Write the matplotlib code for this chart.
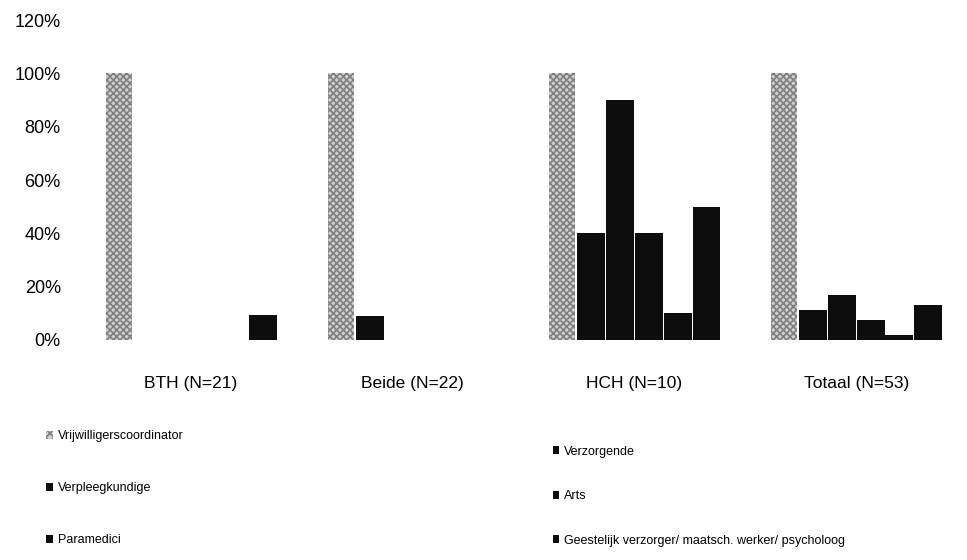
import matplotlib
matplotlib.use("Agg")
import matplotlib.pyplot as plt
import numpy as np
from matplotlib.patches import Patch

plt.rcParams['font.family'] = ['Liberation Sans', 'DejaVu Sans']
plt.rcParams['hatch.linewidth'] = 1.2

groups = ["BTH (N=21)", "Beide (N=22)", "HCH (N=10)", "Totaal (N=53)"]
series = ["Vrijwilligerscoordinator", "Verpleegkundige", "Paramedici",
          "Verzorgende", "Arts", "Geestelijk verzorger/ maatsch. werker/ psycholoog"]

vrijwilligers = [100, 100, 100, 100]
verpleegkundige = [0, 9.1, 40, 11.3]
paramedici = [0, 0, 90, 17]
verzorgende = [0, 0, 40, 7.5]
arts = [0, 0, 10, 1.9]
geestelijk = [9.5, 0, 50, 13.2]
values = [vrijwilligers, verpleegkundige, paramedici, verzorgende, arts, geestelijk]

fig = plt.figure(figsize=(9.67, 5.6), dpi=100)
ax = fig.add_axes([0.083, 0.393, 0.917, 0.571])

x = np.arange(len(groups))
w = 0.13
handles = []
for i, (name, vals) in enumerate(zip(series, values)):
    pos = x + (i - 2.5) * w
    if i == 0:
        ax.bar(pos, vals, w * 0.9, color='#d0d0d0', hatch='xxxxx',
               edgecolor='#808080', linewidth=0)
        handles.append(Patch(facecolor='#d0d0d0', hatch='xxxx', edgecolor='#808080',
                             linewidth=0, label=name))
    else:
        ax.bar(pos, vals, w * 0.97, color='#0d0d0d', linewidth=0)
        handles.append(Patch(facecolor='#0d0d0d', linewidth=0, label=name))

ax.set_xlim(-0.5, 3.5)
ax.set_ylim(0, 120)
ax.set_yticks(range(0, 121, 20))
ax.set_yticklabels([f"{v}%" for v in range(0, 121, 20)], fontsize=13)
ax.set_xticks(x)
ax.set_xticklabels(groups, fontsize=12.5)
ax.tick_params(axis='y', length=0, pad=14)
ax.tick_params(axis='x', length=0, pad=26)
for s in ax.spines.values():
    s.set_visible(False)

common = dict(frameon=False, fontsize=9, handlelength=0.5, handleheight=0.6,
              handletextpad=0.4, borderpad=0, borderaxespad=0, loc='upper left')
fig.legend(handles=handles[:3], bbox_to_anchor=(0.048, 0.232),
           labelspacing=3.2, **common)
fig.legend(handles=handles[3:], bbox_to_anchor=(0.572, 0.204),
           labelspacing=2.6, **common)

fig.savefig("out.png", dpi=100)
